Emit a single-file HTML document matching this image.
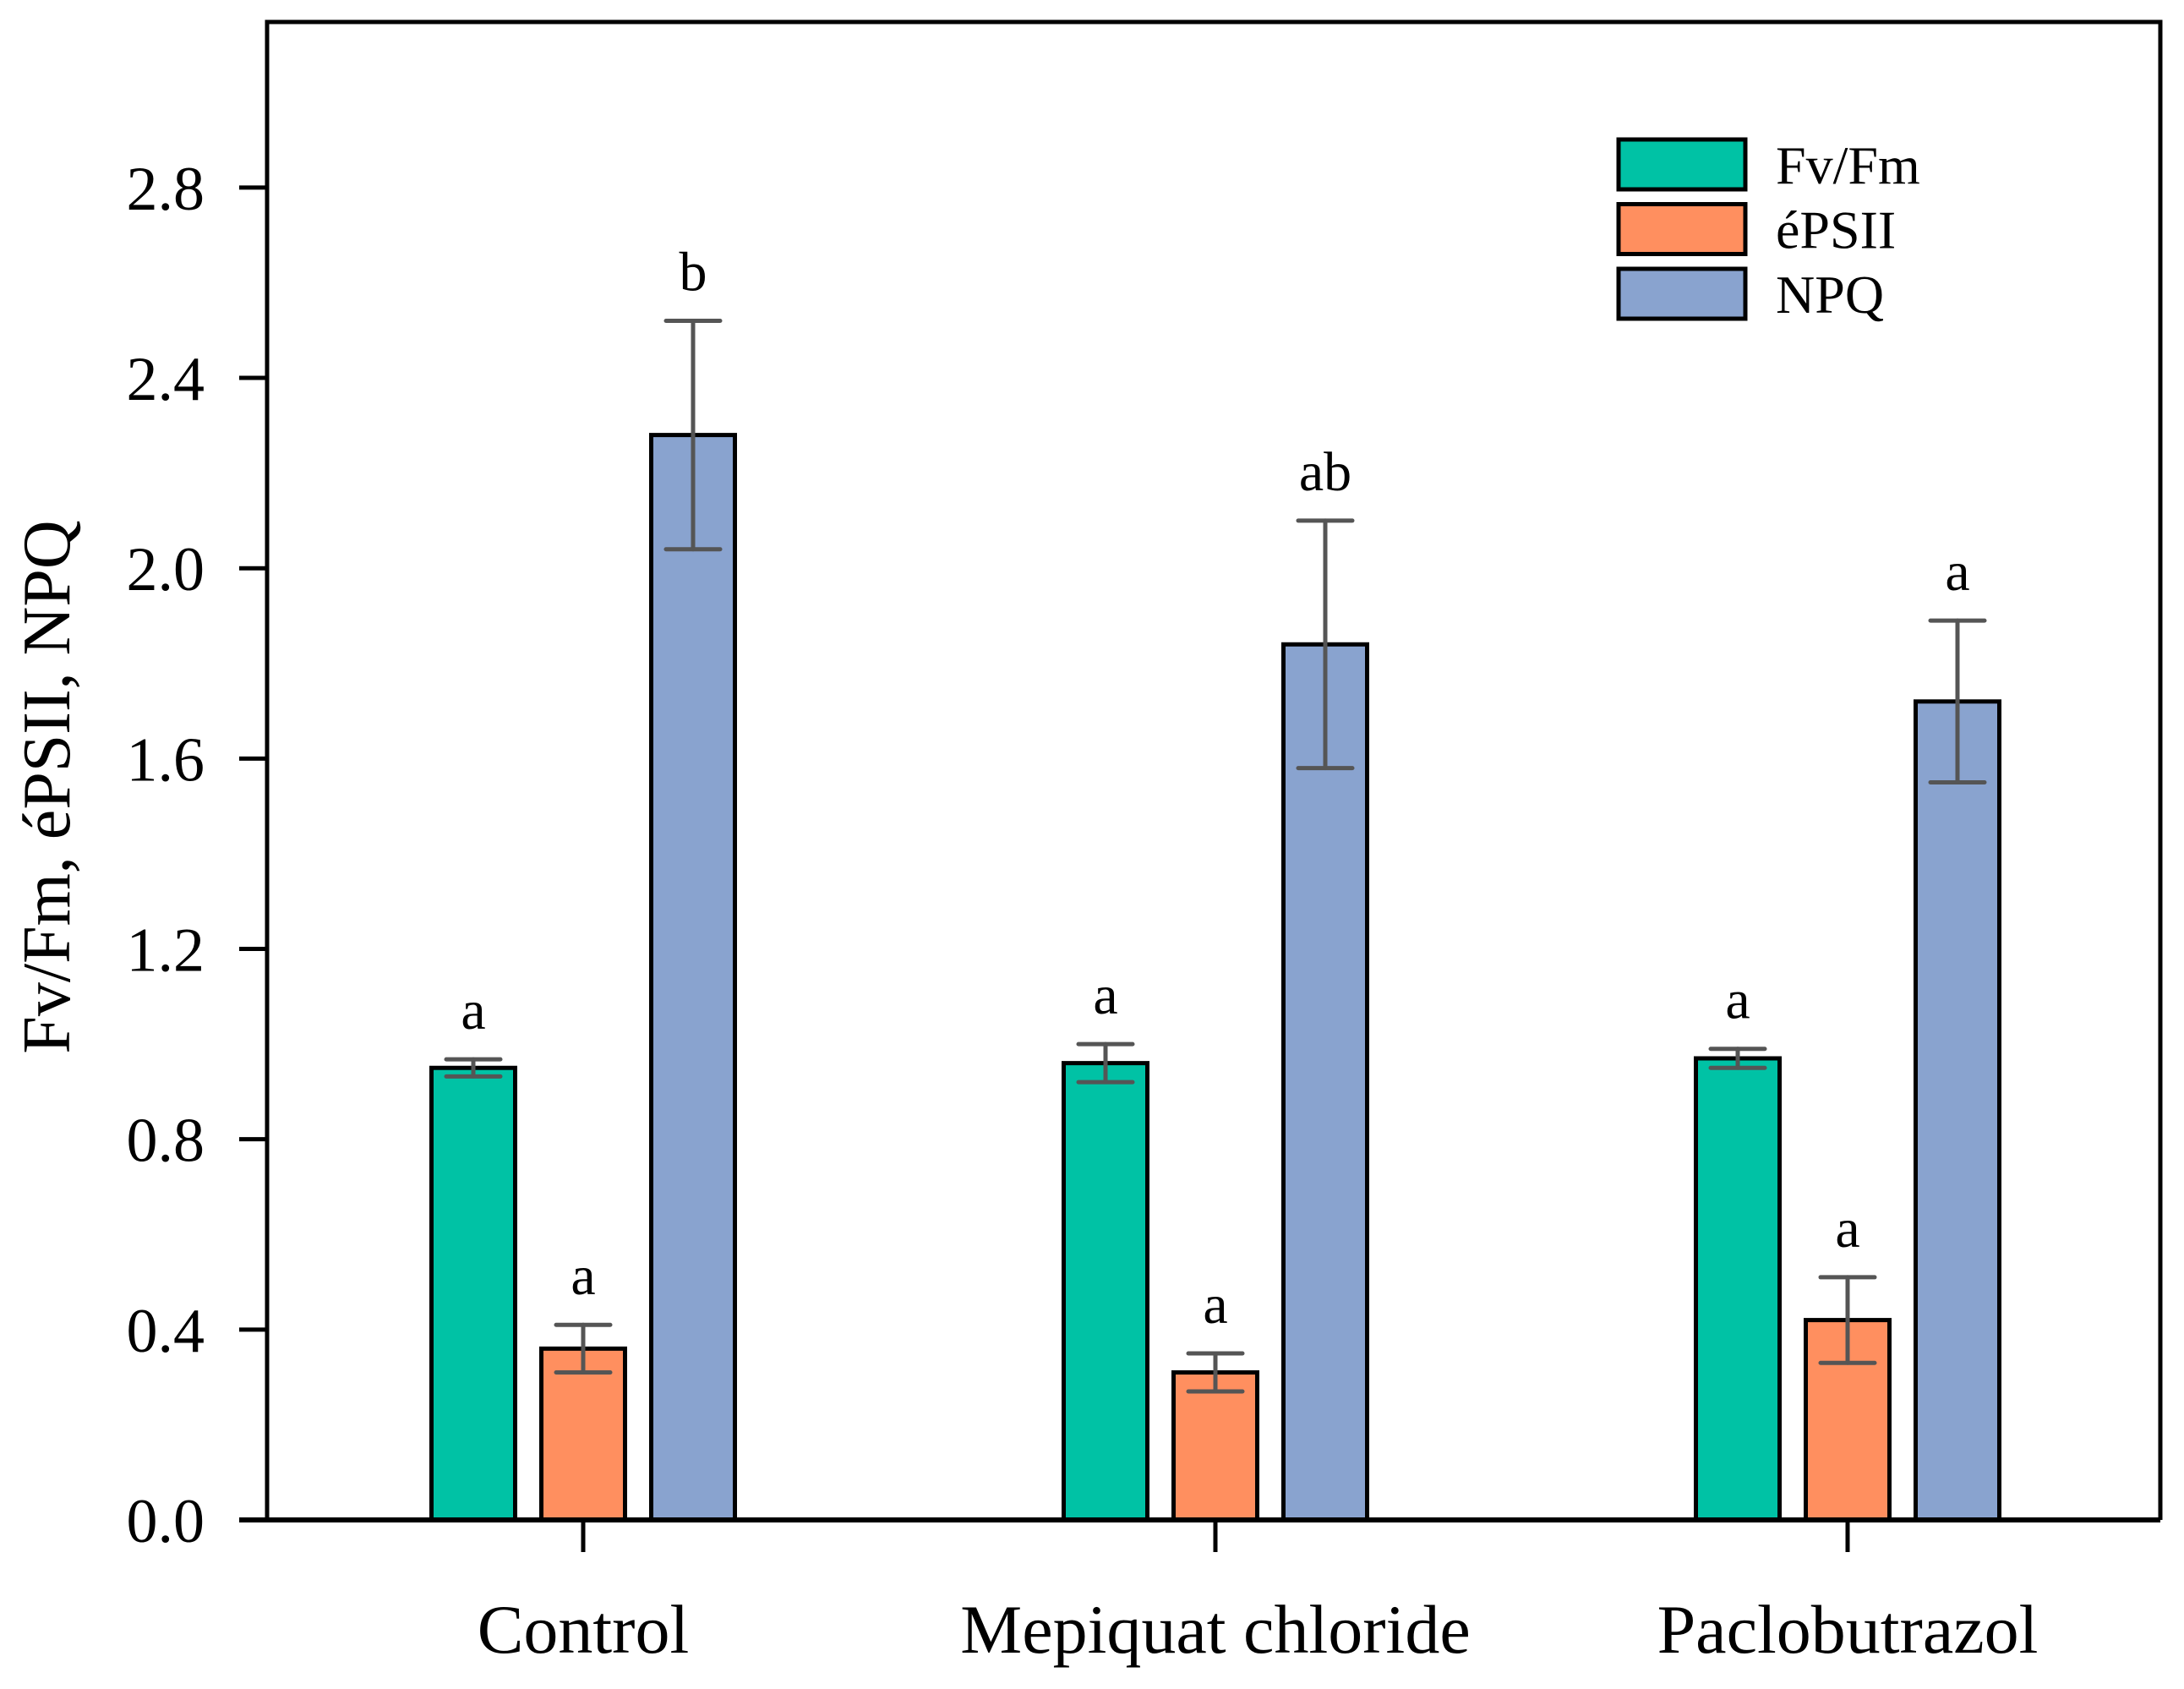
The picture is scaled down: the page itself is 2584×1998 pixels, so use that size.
<!DOCTYPE html>
<html><head><meta charset="utf-8"><style>
html,body{margin:0;padding:0;background:#fff;}
svg{display:block;font-family:"Liberation Serif",serif;}
</style></head><body>
<svg id="chart" width="2584" height="1998" viewBox="0 0 2584 1998" xmlns="http://www.w3.org/2000/svg">
<g id="plot"></g>
</svg>
<script>
const categories = ["Control", "Mepiquat chloride", "Paclobutrazol"];
const seriesNames = ["Fv/Fm", "éPSII", "NPQ"];
const fvfm = [0.95, 0.96, 0.97];
const fvfmErr = [0.018, 0.04, 0.02];
const epsii = [0.36, 0.31, 0.42];
const epsiiErr = [0.05, 0.04, 0.09];
const npq = [2.28, 1.84, 1.72];
const npqErr = [0.24, 0.26, 0.17];
const fvfmLetters = ["a", "a", "a"];
const epsiiLetters = ["a", "a", "a"];
const npqLetters = ["b", "ab", "a"];
const yTicks = [0, 0.4, 0.8, 1.2, 1.6, 2.0, 2.4, 2.8];
const yTickLabels = ["0.0", "0.4", "0.8", "1.2", "1.6", "2.0", "2.4", "2.8"];

const colors = ["#00C2A5", "#FF8F5F", "#89A3CF"];
const L = 316, R = 2556, T = 26, B = 1798;
const yMax = 3.148;
function y(v){ return B - v / yMax * (B - T); }
const groupCenters = [690, 1438, 2186];
function xCenter(i){ return groupCenters[0] + i * (groupCenters[1] - groupCenters[0]); }
const barOffset = 130, barW = 99;

const NS = "http://www.w3.org/2000/svg";
const g = document.getElementById("plot");
function mk(tag, attrs, parent){
  const e = document.createElementNS(NS, tag);
  for (const k in attrs) e.setAttribute(k, attrs[k]);
  (parent || g).appendChild(e);
  return e;
}

const series = [
  {vals: fvfm, err: fvfmErr, letters: fvfmLetters, key: "fvfm"},
  {vals: epsii, err: epsiiErr, letters: epsiiLetters, key: "epsii"},
  {vals: npq, err: npqErr, letters: npqLetters, key: "npq"}
];

categories.forEach((c, i) => {
  series.forEach((s, j) => {
    const cx = xCenter(i) + (j - 1) * barOffset;
    const v = s.vals[i];
    const r = mk("rect", {x: cx - barW/2, y: y(v), width: barW, height: B - y(v), fill: colors[j], stroke: "#000", "stroke-width": 5});
    
    
    const eg = mk("g", {stroke: "#555", "stroke-width": 5, "stroke-linecap": "round"});
    
    
    const hi = y(v + s.err[i]), lo = y(v - s.err[i]);
    mk("line", {x1: cx, x2: cx, y1: hi, y2: lo}, eg);
    mk("line", {x1: cx - 32, x2: cx + 32, y1: hi, y2: hi}, eg);
    mk("line", {x1: cx - 32, x2: cx + 32, y1: lo, y2: lo}, eg);
    const t = mk("text", {x: cx, y: hi - 36, "text-anchor": "middle", "font-size": 66});
    t.textContent = s.letters[i];
    
    
  });
  const tk = mk("line", {x1: xCenter(i), x2: xCenter(i), y1: B, y2: 1836, stroke: "#000", "stroke-width": 5});
  
  
  const lb = mk("text", {x: xCenter(i), y: 1955, "text-anchor": "middle", "font-size": 82});
  lb.textContent = c;
  
  
});

yTicks.forEach((v, i) => {
  const tk = mk("line", {x1: 283, x2: L, y1: y(v), y2: y(v), stroke: "#000", "stroke-width": 5});
  
  
  const lb = mk("text", {x: 242, y: y(v) + 26, "text-anchor": "end", "font-size": 74});
  lb.textContent = yTickLabels[i];
  
  
});

const frame = mk("path", {d: `M${L},${B} L${L},${T} L${R},${T} L${R},${B}`, fill: "none", stroke: "#000", "stroke-width": 5});


const xAxis = mk("line", {x1: 283, x2: R, y1: B, y2: B, stroke: "#000", "stroke-width": 6});



const yt = mk("text", {x: 0, y: 0, "text-anchor": "middle", "font-size": 80, transform: "translate(82,931) rotate(-90)"});
yt.textContent = "Fv/Fm, éPSII, NPQ";



seriesNames.forEach((n, j) => {
  const top = 165 + j * 76.5;
  const lg = mk("g", {});
  
  
  mk("rect", {x: 1915, y: top, width: 150, height: 59, fill: colors[j], stroke: "#000", "stroke-width": 5}, lg);
  const t = mk("text", {x: 2101, y: top + 52, "font-size": 64}, lg);
  t.textContent = n;
});
</script>
</body></html>
